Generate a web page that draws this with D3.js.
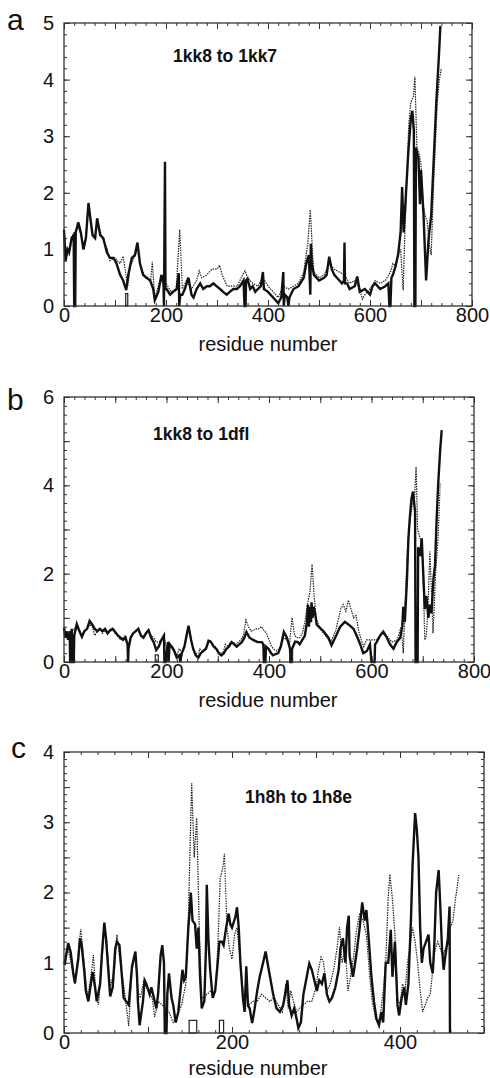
<!DOCTYPE html>
<html>
<head>
<meta charset="utf-8">
<script src="https://cdn.jsdelivr.net/npm/d3@7"></script>
<style>
  body { margin: 0; background: #fff; }
  svg { display: block; background: #fff; font-family: "Liberation Sans", Arial, sans-serif; }
  .ticks line { stroke: #333; stroke-width: 1; }
  .labels text { font-size: 20px; fill: #111; }
  .labels line { display: none; }
  .title { font-size: 20px; fill: #111; }
  .name { font-size: 17.5px; font-weight: bold; fill: #111; }
  .letter { font-size: 30px; fill: #111; }
</style>
</head>
<body>
<svg width="490" height="1078"></svg>
<script>
// ---- data: [residue, rmsd] ----

// panel a: 1kk8 to 1kk7
const aSolid = [[0,1.35],[3,0.8],[7,1.0],[10,0.95],[15,1.2],[19,1.25],[20,0],[22,0],[23,1.3],[28,1.48],[33,1.3],[38,1.0],[43,1.2],[48,1.82],[51,1.6],[56,1.25],[61,1.2],[65,1.55],[71,1.25],[77,1.2],[84,0.95],[90,0.85],[97,0.85],[103,0.75],[110,0.55],[116,0.45],[122,0.28],[126,0.55],[133,0.85],[139,0.9],[144,1.12],[149,0.75],[155,0.55],[162,0.5],[169,0.45],[175,0.3],[178,0.1],[185,0.25],[191,0.55],[195,0.4],[196,0],[197,1.3],[198,2.55],[199,0.3],[201,0.3],[208,0.2],[214,0.25],[221,0.3],[225,0.58],[226,0],[228,0.2],[232,0.2],[237,0.3],[244,0.5],[250,0.2],[254,0.15],[260,0.3],[267,0.4],[273,0.3],[280,0.35],[286,0.35],[293,0.4],[299,0.35],[306,0.3],[312,0.25],[319,0.2],[325,0.25],[332,0.3],[339,0.3],[345,0.35],[352,0.45],[354,0],[356,0],[357,0.45],[360,0.48],[365,0.3],[370,0.35],[375,0.25],[380,0.3],[386,0.35],[390,0.6],[392,0.3],[400,0.25],[410,0.15],[420,0.05],[426,0.15],[430,0.6],[431,0],[433,0.2],[438,0.15],[440,0],[442,0.15],[450,0.3],[460,0.35],[470,0.5],[475,0.75],[480,0.9],[483,0.2],[484,1.1],[486,0.75],[490,0.55],[500,0.45],[510,0.5],[515,0.55],[520,0.87],[525,0.65],[530,0.55],[540,0.45],[545,0.4],[549,0.45],[550,1.12],[551,0.4],[555,0.4],[560,0.3],[570,0.35],[575,0.52],[580,0.25],[590,0.3],[600,0.2],[605,0.35],[610,0.4],[620,0.3],[630,0.35],[636,0.4],[638,0],[640,0],[642,0.5],[645,0.55],[650,0.7],[655,0.9],[660,1.3],[663,2.1],[666,1.3],[670,1.9],[675,2.7],[680,3.3],[683,3.45],[686,3.1],[687,0],[689,0],[690,2.8],[695,2.6],[698,1.8],[700,2.4],[705,1.6],[710,0.45],[715,1.2],[720,1.6],[725,2.6],[730,3.6],[735,4.4],[738,4.95]];
const aDotted = [[0,1.3],[5,0.9],[10,0.9],[15,1.2],[20,1.3],[28,1.4],[35,1.2],[40,1.0],[48,1.75],[55,1.3],[62,1.2],[65,1.5],[75,1.2],[85,1.0],[90,0.8],[100,0.85],[110,0.75],[116,0.88],[125,0.35],[130,0.7],[140,0.9],[145,1.05],[150,0.7],[160,0.5],[170,0.45],[173,0.78],[178,0.15],[190,0.5],[200,0.4],[210,0.25],[220,0.3],[227,1.35],[232,0.3],[240,0.45],[250,0.3],[260,0.45],[265,0.62],[270,0.5],[280,0.55],[290,0.65],[300,0.65],[305,0.72],[310,0.55],[320,0.35],[330,0.35],[340,0.35],[350,0.55],[355,0.62],[360,0.5],[370,0.4],[380,0.35],[390,0.5],[400,0.35],[410,0.25],[420,0.15],[430,0.35],[440,0.3],[450,0.35],[460,0.4],[470,0.6],[478,1.1],[483,1.7],[487,1.0],[490,0.6],[500,0.5],[510,0.55],[520,0.75],[530,0.65],[540,0.6],[550,0.55],[560,0.4],[570,0.45],[580,0.3],[585,0.12],[590,0.2],[600,0.3],[610,0.45],[620,0.4],[630,0.45],[640,0.6],[645,0.75],[650,0.7],[655,0.9],[660,1.0],[665,0.28],[668,1.2],[672,2.2],[676,3.2],[680,3.6],[685,3.7],[688,4.05],[692,2.8],[696,2.7],[700,2.5],[704,1.8],[708,1.6],[712,1.5],[716,1.1],[720,0.9],[724,2.0],[728,2.8],[732,3.6],[736,4.0],[740,4.2]];
const aGapBoxes = [[121,125,0.22]];
const aXTicks = [0,200,400,600,800];
const aYTicks = [0,1,2,3,4,5];

// panel b: 1kk8 to 1dfl
const bSolid = [[0,0.78],[3,0.55],[5,0.7],[8,0.5],[11,0.7],[12,0],[14,0],[15,0.75],[17,0],[19,0],[20,0.6],[25,0.86],[30,0.7],[35,0.57],[40,0.7],[45,0.75],[50,0.93],[55,0.85],[60,0.75],[65,0.7],[70,0.75],[75,0.7],[80,0.75],[85,0.65],[90,0.72],[95,0.75],[100,0.68],[105,0.6],[110,0.55],[115,0.5],[120,0.55],[124,0.4],[125,0],[126,0.31],[130,0.55],[135,0.65],[140,0.7],[145,0.75],[150,0.6],[155,0.55],[160,0.65],[165,0.72],[170,0.55],[175,0.45],[180,0.27],[185,0.35],[190,0.5],[195,0.6],[196,0],[198,0],[200,0.2],[203,0.45],[204,0],[206,0.4],[210,0.35],[215,0.25],[220,0.1],[225,0.15],[227,0],[229,0.15],[230,0.2],[235,0.35],[240,0.65],[243,0.82],[248,0.5],[252,0.3],[257,0.15],[262,0.1],[267,0.2],[272,0.25],[277,0.3],[282,0.48],[287,0.45],[292,0.35],[297,0.3],[302,0.2],[307,0.15],[312,0.2],[317,0.3],[322,0.35],[327,0.45],[332,0.4],[337,0.35],[342,0.4],[347,0.45],[352,0.55],[356,0.68],[362,0.55],[369,0.5],[378,0.45],[386,0.45],[389,0.4],[390,0],[393,0],[394,0.35],[399,0.3],[404,0.2],[408,0.15],[413,0.18],[418,0.2],[423,0.35],[429,0.68],[435,0.55],[441,0.3],[442,0],[444,0],[445,0.3],[451,0.46],[456,0.45],[460,0.4],[465,0.5],[470,0.6],[474,0.9],[476,1.3],[478,0.8],[480,1.25],[482,0.9],[483,1.35],[485,1.0],[487,1.25],[490,1.1],[493,0.85],[497,0.8],[506,0.7],[516,0.55],[522,0.38],[529,0.55],[539,0.8],[548,0.91],[555,0.85],[565,0.75],[571,0.6],[578,0.4],[584,0.2],[591,0.25],[597,0.4],[600,0],[606,0],[607,0.4],[610,0.45],[617,0.6],[623,0.69],[630,0.55],[636,0.4],[643,0.3],[649,0.45],[656,0.55],[660,0.8],[662,1.25],[665,0.9],[669,1.8],[672,2.8],[675,3.3],[678,3.7],[681,3.86],[685,3.4],[686,0],[690,0],[691,2.6],[695,2.4],[698,2.8],[701,2.0],[704,1.2],[707,1.5],[711,1.0],[714,1.3],[717,1.1],[721,1.9],[724,2.2],[727,3.2],[730,4.0],[734,4.8],[737,5.25]];
const bDotted = [[0,0.75],[5,0.6],[10,0.65],[15,0.7],[20,0.75],[25,0.8],[30,0.7],[35,0.6],[40,0.7],[45,0.75],[50,0.85],[55,0.8],[60,0.6],[65,0.7],[70,0.75],[75,0.65],[80,0.72],[85,0.65],[90,0.7],[95,0.72],[100,0.65],[105,0.6],[110,0.5],[115,0.55],[120,0.6],[125,0.35],[130,0.55],[135,0.65],[140,0.7],[145,0.72],[150,0.6],[155,0.55],[160,0.65],[165,0.7],[170,0.6],[175,0.55],[180,0.45],[185,0.45],[190,0.5],[195,0.6],[200,0.3],[205,0.45],[210,0.35],[215,0.3],[220,0.15],[225,0.3],[230,0.2],[235,0.35],[240,0.6],[243,0.78],[248,0.5],[252,0.3],[257,0.2],[262,0.15],[265,0.3],[270,0.25],[275,0.3],[280,0.38],[285,0.5],[290,0.4],[295,0.35],[300,0.25],[305,0.2],[310,0.2],[315,0.4],[320,0.35],[325,0.45],[330,0.45],[335,0.4],[340,0.45],[345,0.5],[350,0.6],[355,0.95],[360,0.8],[365,0.7],[370,0.72],[375,0.75],[380,0.75],[385,0.8],[390,0.72],[395,0.65],[400,0.5],[405,0.35],[410,0.28],[415,0.25],[420,0.3],[425,0.45],[430,0.55],[435,0.5],[440,0.4],[445,1.0],[450,0.6],[455,0.55],[460,0.55],[465,0.65],[470,0.9],[475,1.3],[480,1.6],[484,2.22],[488,1.5],[492,1.0],[496,0.85],[500,0.75],[510,0.6],[520,0.45],[530,0.7],[540,1.2],[545,1.3],[550,1.15],[555,1.4],[560,1.2],[565,1.0],[570,1.05],[575,0.7],[580,0.5],[585,0.35],[590,0.5],[600,0.5],[610,0.5],[620,0.65],[630,0.6],[640,0.45],[650,0.5],[658,0.8],[662,0.2],[665,1.2],[670,2.5],[675,3.2],[680,3.6],[684,3.7],[687,4.42],[690,3.0],[695,2.8],[700,2.3],[704,0.5],[707,0.6],[710,1.2],[714,2.5],[717,1.6],[720,0.65],[725,2.0],[730,2.8],[734,4.05]];
const bGapBoxes = [[178,184,0.16],[441,446,0.2]];
const bXTicks = [0,200,400,600,800];
const bYTicks = [0,2,4,6];

// panel c: 1h8h to 1h8e
const cSolid = [[0,1.0],[1,0.99],[5,1.28],[8,1.15],[11,0.85],[13,0.71],[17,1.05],[19,1.35],[21,1.25],[24,0.9],[26,0.6],[29,0.45],[32,0.7],[34,0.87],[37,0.65],[39,0.45],[43,0.7],[45,1.1],[48,1.57],[50,1.35],[53,0.85],[55,0.52],[58,0.65],[61,1.2],[63,1.3],[66,1.25],[69,0.8],[71,0.5],[74,0.45],[77,0.4],[81,0.95],[85,1.16],[87,0.8],[88,0.45],[90,0.11],[94,0.45],[96,0.75],[98,0.7],[102,0.55],[104,0.65],[106,0.55],[110,0.35],[112,0.55],[115,1.1],[117,1.25],[119,1.0],[120,0],[122,0],[123,0.55],[125,0.85],[128,0.5],[130,0.4],[133,0.15],[136,0.3],[139,0.65],[141,0.9],[143,0.75],[145,0.8],[148,1.5],[150,1.8],[151,2.0],[153,1.6],[156,1.55],[158,1.2],[160,1.5],[162,0.8],[164,0.35],[167,0.45],[169,1.2],[170,2.11],[172,1.3],[174,0.9],[177,0.5],[180,0.6],[183,1.0],[185,1.3],[188,1.3],[190,1.25],[193,1.5],[196,1.7],[198,1.55],[200,1.5],[204,1.65],[206,1.79],[208,1.5],[210,1.0],[213,0.5],[215,0.3],[217,0.95],[219,0.4],[221,0.35],[224,0.14],[227,0.35],[230,0.6],[233,0.8],[237,1.0],[240,1.16],[243,0.95],[246,0.75],[249,0.55],[253,0.35],[257,0.3],[261,0.4],[264,0.6],[266,0.75],[268,0.4],[271,0.25],[274,0.35],[277,0.2],[279,0.07],[282,0.15],[285,0.55],[289,0.8],[292,0.99],[295,0.9],[298,0.75],[301,0.6],[304,0.75],[307,0.7],[310,0.85],[313,0.55],[316,0.45],[319,0.5],[323,0.65],[327,0.9],[329,1.2],[332,1.35],[335,1.0],[337,1.5],[339,1.67],[340,1.1],[344,0.8],[346,0.95],[349,1.2],[352,1.5],[355,1.86],[358,1.6],[360,1.75],[363,1.3],[366,0.8],[369,0.45],[372,0.2],[375,0.11],[378,0.3],[380,0.15],[383,1.0],[386,1.0],[389,1.47],[391,0.8],[394,1.3],[397,0.4],[399,0.25],[402,0.5],[405,0.65],[407,0.4],[410,0.7],[413,1.6],[415,2.4],[418,3.13],[420,2.9],[422,2.5],[424,1.5],[426,1.0],[428,1.2],[431,1.3],[434,1.4],[436,1.0],[439,0.85],[441,1.3],[443,2.0],[446,2.32],[448,1.8],[450,1.2],[452,0.9],[454,1.1],[457,1.35],[459,1.8],[459.5,0]];
const cDotted = [[0,1.0],[5,1.2],[10,0.9],[13,0.7],[17,1.15],[20,1.48],[24,1.0],[28,0.5],[32,0.8],[35,1.11],[38,0.55],[41,0.4],[45,1.0],[48,1.5],[51,1.3],[55,0.65],[60,0.9],[63,1.4],[67,1.0],[72,0.6],[76,0.2],[77,0.1],[81,0.9],[85,1.1],[88,0.6],[91,0.5],[95,0.75],[100,0.6],[105,0.5],[108,0.23],[112,0.45],[117,0.4],[120,0.35],[125,0.3],[130,0.15],[135,0.25],[140,0.4],[145,0.7],[148,1.6],[150,2.6],[152,3.56],[155,2.5],[158,3.06],[161,1.5],[164,0.5],[167,0.5],[170,0.55],[175,0.6],[180,0.6],[183,1.2],[186,2.2],[189,2.35],[191,2.55],[194,1.5],[197,1.2],[200,1.05],[203,1.4],[206,1.5],[210,1.0],[213,0.6],[216,0.35],[220,0.4],[225,0.45],[230,0.45],[235,0.55],[240,0.5],[245,0.45],[250,0.5],[255,0.4],[260,0.3],[264,0.7],[267,0.35],[270,0.6],[273,0.45],[277,0.3],[280,0.35],[285,0.4],[290,0.45],[295,0.45],[300,0.65],[303,0.9],[306,1.08],[309,1.0],[313,0.6],[317,0.7],[321,0.9],[325,1.2],[328,1.51],[331,1.0],[335,1.2],[338,0.6],[341,0.8],[345,1.1],[348,1.45],[352,1.7],[356,1.6],[360,1.4],[364,0.8],[367,0.45],[371,0.2],[374,0.15],[377,0.3],[380,0.6],[383,1.0],[386,1.94],[388,2.26],[391,1.9],[394,1.4],[397,0.5],[400,0.4],[403,0.7],[406,0.6],[409,1.0],[412,1.25],[415,1.5],[418,1.3],[421,1.0],[424,0.6],[427,0.3],[430,0.4],[433,0.5],[436,0.55],[439,0.9],[442,1.2],[445,1.3],[448,1.2],[451,1.1],[454,1.2],[457,1.25],[460,1.5],[463,1.6],[466,1.9],[470,2.25]];
const cGapBoxes = [[149,158,0.18],[185,190,0.18]];
const cXTicks = [0,200,400];
const cYTicks = [0,1,2,3,4];

const svg = d3.select("svg");

// panel layout (pixels) and axis setup
const panels = [
  { letter: "a", name: "1kk8 to 1kk7", solid: aSolid, dotted: aDotted, boxes: aGapBoxes,
    xTicks: aXTicks, yTicks: aYTicks, xMax: 800, yMax: 5, xStep: 100, xMinor: 20, yStep: 1, yMinor: 0.2,
    left: 64, right: 472, top: 23, bottom: 306,
    letterPos: [7, 30], namePos: [173, 62], titlePos: [268, 351] },
  { letter: "b", name: "1kk8 to 1dfl", solid: bSolid, dotted: bDotted, boxes: bGapBoxes,
    xTicks: bXTicks, yTicks: bYTicks, xMax: 800, yMax: 6, xStep: 100, xMinor: 20, yStep: 1, yMinor: 0.2,
    left: 64, right: 474, top: 397, bottom: 662,
    letterPos: [7, 410], namePos: [153, 440], titlePos: [268, 707] },
  { letter: "c", name: "1h8h to 1h8e", solid: cSolid, dotted: cDotted, boxes: cGapBoxes,
    xTicks: cXTicks, yTicks: cYTicks, xMax: 500, yMax: 4, xStep: 100, xMinor: 20, yStep: 0.5, yMinor: 0.1,
    left: 64, right: 484, top: 752, bottom: 1033,
    letterPos: [11, 758], namePos: [245, 803], titlePos: [258, 1075] }
];

const drawPanel = (p) => {
  //prettier-ignore
  const x = d3.scaleLinear()
    .domain([0, p.xMax])
    .range([p.left, p.right]);

  //prettier-ignore
  const y = d3.scaleLinear()
    .domain([0, p.yMax])
    .range([p.bottom, p.top]);

  const g = svg.append("g").attr("class", "panel-" + p.letter);

  const xMinorVals = d3.range(0, p.xMax + 0.001, p.xMinor);
  const xMajorVals = d3.range(0, p.xMax + 0.001, p.xStep);
  const yMinorVals = d3.range(0, p.yMax + 0.001, p.yMinor);
  const yMajorVals = d3.range(0, p.yMax + 0.001, p.yStep);

  // inward ticks on all four sides
  const addTicks = (axis, transform) => {
    g.append("g")
      .attr("class", "ticks")
      .attr("transform", transform)
      .call(axis.tickSizeOuter(0).tickFormat(""))
      .call((s) => s.select(".domain").remove());
  };
  [[xMinorVals, 3], [xMajorVals, 6]].forEach(([vals, len]) => {
    addTicks(d3.axisBottom(x).tickValues(vals).tickSize(-len), `translate(0,${p.bottom})`);
    addTicks(d3.axisTop(x).tickValues(vals).tickSize(-len), `translate(0,${p.top})`);
  });
  [[yMinorVals, 3], [yMajorVals, 6]].forEach(([vals, len]) => {
    addTicks(d3.axisLeft(y).tickValues(vals).tickSize(-len), `translate(${p.left},0)`);
    addTicks(d3.axisRight(y).tickValues(vals).tickSize(-len), `translate(${p.right},0)`);
  });

  // tick labels
  //prettier-ignore
  g.append("g")
    .attr("class", "labels")
    .attr("transform", `translate(0,${p.bottom})`)
    .call(d3.axisBottom(x).tickValues(p.xTicks).tickSize(0).tickPadding(2).tickFormat(d3.format("d")))
    .call((s) => s.select(".domain").remove());

  //prettier-ignore
  g.append("g")
    .attr("class", "labels")
    .attr("transform", `translate(${p.left},0)`)
    .call(d3.axisLeft(y).tickValues(p.yTicks).tickSize(0).tickPadding(10).tickFormat(d3.format("d")))
    .call((s) => s.select(".domain").remove());

  const line = d3.line()
    .x((d) => x(d[0]))
    .y((d) => y(d[1]));

  // dotted series first, solid on top
  //prettier-ignore
  g.append("path")
    .datum(p.dotted)
    .attr("d", line)
    .attr("fill", "none")
    .attr("stroke", "#1a1a1a")
    .attr("stroke-width", 1.2)
    .attr("stroke-dasharray", "1.4,1.1");

  //prettier-ignore
  g.append("path")
    .datum(p.solid)
    .attr("d", line)
    .attr("fill", "none")
    .attr("stroke", "#111")
    .attr("stroke-width", 2.4)
    .attr("stroke-linejoin", "miter");

  // small open boxes at the baseline (missing residues)
  //prettier-ignore
  g.selectAll("rect.gap")
    .data(p.boxes)
    .join("rect")
    .attr("class", "gap")
    .attr("x", (d) => x(d[0]))
    .attr("y", (d) => y(d[2]))
    .attr("width", (d) => x(d[1]) - x(d[0]))
    .attr("height", (d) => y(0) - y(d[2]))
    .attr("fill", "none")
    .attr("stroke", "#222")
    .attr("stroke-width", 1.2);

  // frame
  //prettier-ignore
  g.append("rect")
    .attr("x", p.left)
    .attr("y", p.top)
    .attr("width", p.right - p.left)
    .attr("height", p.bottom - p.top)
    .attr("fill", "none")
    .attr("stroke", "#333")
    .attr("stroke-width", 1.3);

  g.append("text")
    .attr("class", "letter")
    .attr("x", p.letterPos[0])
    .attr("y", p.letterPos[1])
    .text(p.letter);

  g.append("text")
    .attr("class", "name")
    .attr("x", p.namePos[0])
    .attr("y", p.namePos[1])
    .text(p.name);

  g.append("text")
    .attr("class", "title")
    .attr("x", p.titlePos[0])
    .attr("y", p.titlePos[1])
    .attr("text-anchor", "middle")
    .text("residue number");
};

panels.forEach(drawPanel);
</script>
</body>
</html>
